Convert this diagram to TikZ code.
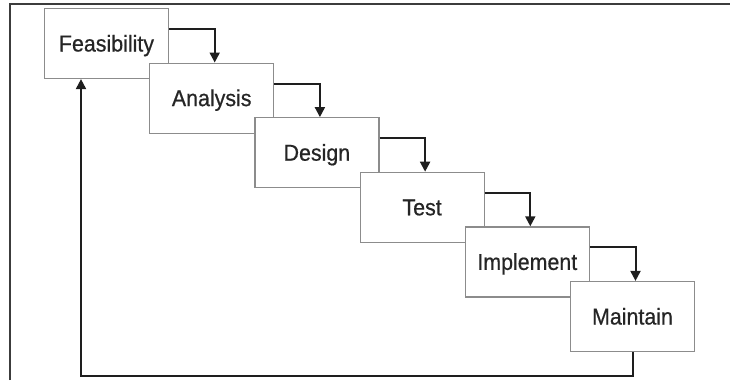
\documentclass[tikz,border=0pt]{standalone}
\usepackage{fontspec}
\setmainfont[FakeStretch=0.93,FakeBold=0.6]{Liberation Sans}
\usetikzlibrary{arrows.meta}
\definecolor{boxgray}{HTML}{8C8C8C}
\definecolor{textdark}{HTML}{252525}
\definecolor{arrowdark}{HTML}{1E1E1E}
\definecolor{framegray}{HTML}{3C3C3C}
\begin{document}
\begin{tikzpicture}[x=1pt,y=-1pt,
  stage/.style={draw=boxgray, line width=1.2pt, fill=white,
    minimum width=124pt, minimum height=70pt, inner sep=0pt,
    text height=16pt, text depth=0pt,
    font=\fontsize{23}{26}\selectfont, text=textdark},
  flow/.style={draw=arrowdark, line width=2pt, line join=miter,
    -{Triangle[width=10pt,length=10pt]}},
  frameline/.style={draw=framegray, line width=1.8pt}]
\useasboundingbox (0,0) rectangle (730,380);
\draw[frameline] (10,380) -- (10,4) -- (730,4);

\node[stage] (f) at (106.5,43.5) {Feasibility};
\node[stage] (a) at (211.7,98.1) {Analysis};
\node[stage] (d) at (316.9,152.7) {Design};
\node[stage] (t) at (422.1,207.3) {Test};
\node[stage] (i) at (527.3,261.9) {Implement};
\node[stage] (m) at (632.5,316.5) {Maintain};

\draw[flow] ([yshift=-21pt]f.north east) -| ([xshift=3pt]a.north);
\draw[flow] ([yshift=-21pt]a.north east) -| ([xshift=3pt]d.north);
\draw[flow] ([yshift=-21pt]d.north east) -| ([xshift=3pt]t.north);
\draw[flow] ([yshift=-21pt]t.north east) -| ([xshift=3pt]i.north);
\draw[flow] ([yshift=-21pt]i.north east) -| ([xshift=3pt]m.north);

\coordinate (low) at (0,376);
\draw[flow] (m.south) -- (m.south |- low) -| ([xshift=-25.5pt]f.south);
\end{tikzpicture}
\end{document}
